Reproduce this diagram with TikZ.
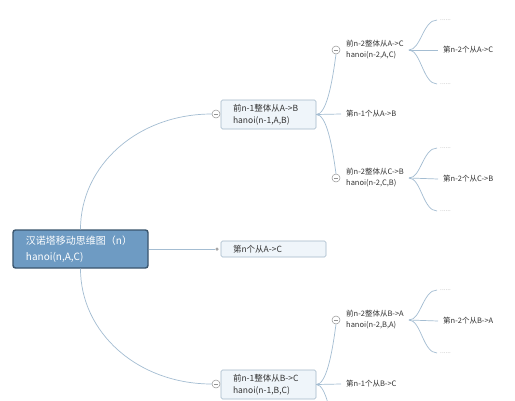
\documentclass[tikz,border=0pt]{standalone}
\usepackage{fontspec}
\newfontfamily\cjk{Noto Sans CJK SC}
\usepackage{tikz}
\usetikzlibrary{calc,positioning}
\definecolor{rootfill}{HTML}{6E9BC3}
\definecolor{rootdraw}{HTML}{3A556D}
\definecolor{topicfill}{HTML}{EFF5FA}
\definecolor{topicdraw}{HTML}{A3B8C9}
\definecolor{linkcol}{HTML}{A4BDD2}
\definecolor{textcol}{HTML}{333333}

\begin{document}
\begin{tikzpicture}[x=1pt,y=-1pt,font=\cjk,
	rootbox/.style={draw=rootdraw,fill=rootfill,line width=1.4pt,rounded corners=2.5pt,minimum width=135pt,minimum height=38pt,text width=109pt,inner xsep=13pt,align=left,text=white,font=\cjk\fontsize{10}{16}\selectfont},
	topicbox/.style={draw=topicdraw,fill=topicfill,line width=0.6pt,rounded corners=1.5pt,minimum width=95pt,minimum height=29pt,text width=71pt,inner xsep=12pt,align=left,text=textcol,font=\cjk\fontsize{8.5}{12}\selectfont},
	leaf/.style={anchor=west,inner xsep=5pt,inner ysep=1pt,align=left,text=textcol,font=\cjk\fontsize{7.5}{11}\selectfont},
	dots/.style={anchor=west,inner xsep=3pt,inner ysep=1pt,text=gray!60,font=\cjk\fontsize{6.5}{6.5}\selectfont},
	fold/.style={circle,draw=gray!85,fill=white,line width=0.5pt,minimum size=8pt,inner sep=0pt,path picture={\draw[gray!85,line width=0.5pt] ($(path picture bounding box.center)+(-2.2pt,0)$) -- ($(path picture bounding box.center)+(2.2pt,0)$);}},
	dotend/.style={circle,fill=gray!70,minimum size=3.5pt,inner sep=0pt},
	link/.style={draw=linkcol,line width=0.7pt}]
	\useasboundingbox (0,0) rectangle (515,400);
	\clip (0,0) rectangle (515,400);
	\fill[white] (0,0) rectangle (515,400);

	% centre
	\node (root) at (80.5,249) [rootbox] {汉诺塔移动思维图（n）\\hanoi(n,A,C)};

	% first level
	\node (topicA) at (268.5,114.5) [topicbox] {前n-1整体从A->B\\hanoi(n-1,A,B)};
	\node (mid) at (273.5,249) [topicbox,minimum width=105pt,text width=81pt,minimum height=16pt] {第n个从A->C};
	\node (topicB) at (268.5,384.5) [topicbox] {前n-1整体从B->C\\hanoi(n-1,B,C)};
	\node (foldA) at (216,114) [fold] {};
	\node (dotmid) at (217,249) [dotend] {};
	\node (foldB) at (216,384) [fold] {};

	% second level
	\node (subAA) at (341,50) [leaf] {前n-2整体从A->C\\hanoi(n-2,A,C)};
	\node (leafAB) at (341,114) [leaf] {第n-1个从A->B};
	\node (subAC) at (341,178) [leaf] {前n-2整体从C->B\\hanoi(n-2,C,B)};
	\node (subBA) at (341,320) [leaf] {前n-2整体从B->A\\hanoi(n-2,B,A)};
	\node (leafBB) at (341,384) [leaf] {第n-1个从B->C};
	\node (foldAA) at (336,50) [fold] {};
	\node (foldAC) at (336,178) [fold] {};
	\node (foldBA) at (336,320) [fold] {};
	\coordinate (foldBC) at (336,448);

	% third level
	\node (dotsAA1) at (437,20) [dots] {......};
	\node (leafAA) at (438,50) [leaf] {第n-2个从A->C};
	\node (dotsAA3) at (437,84) [dots] {......};
	\node (dotsAC1) at (437,148) [dots] {......};
	\node (leafAC) at (438,179) [leaf] {第n-2个从C->B};
	\node (dotsAC3) at (437,211) [dots] {......};
	\node (dotsBA1) at (437,290) [dots] {......};
	\node (leafBA) at (438,321) [leaf] {第n-2个从B->A};
	\node (dotsBA3) at (437,353) [dots] {......};

	% connectors
	\draw[link] (root.north) .. controls +(0,-64) and +(-74,0) .. (foldA.west);
	\draw[link] (root.east) -- (dotmid.west);
	\draw[link] (root.south) .. controls +(0,64) and +(-74,0) .. (foldB.west);

	\draw[link] (topicA.east) .. controls +(10,0) and +(-4,30) .. (foldAA.south);
	\draw[link] (topicA.east) -- (leafAB.west);
	\draw[link] (topicA.east) .. controls +(10,0) and +(-4,-30) .. (foldAC.north);
	\draw[link] (topicB.east) .. controls +(10,0) and +(-4,30) .. (foldBA.south);
	\draw[link] (topicB.east) -- (leafBB.west);
	\draw[link] (topicB.east) .. controls +(10,0) and +(-4,-30) .. (foldBC);

	\draw[link] (subAA.east) .. controls +(12,0) and +(-14,0) .. (dotsAA1.west);
	\draw[link] (subAA.east) -- (leafAA.west);
	\draw[link] (subAA.east) .. controls +(12,0) and +(-14,0) .. (dotsAA3.west);
	\draw[link] (subAC.east) .. controls +(12,0) and +(-14,0) .. (dotsAC1.west);
	\draw[link] (subAC.east) -- (leafAC.west);
	\draw[link] (subAC.east) .. controls +(12,0) and +(-14,0) .. (dotsAC3.west);
	\draw[link] (subBA.east) .. controls +(12,0) and +(-14,0) .. (dotsBA1.west);
	\draw[link] (subBA.east) -- (leafBA.west);
	\draw[link] (subBA.east) .. controls +(12,0) and +(-14,0) .. (dotsBA3.west);
\end{tikzpicture}
\end{document}
